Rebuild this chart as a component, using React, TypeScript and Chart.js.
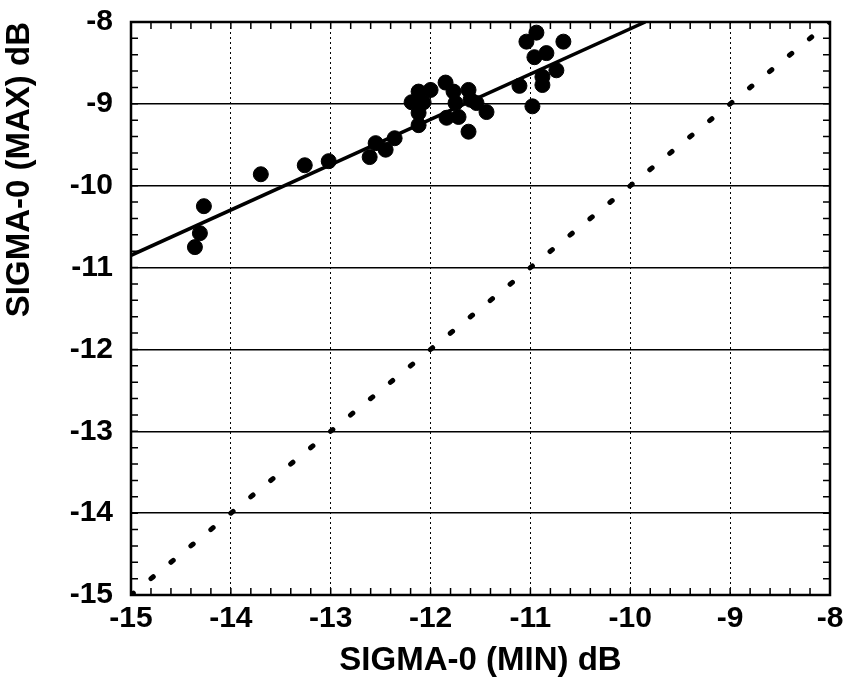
import React, { useEffect, useRef } from "react";
import { Chart, registerables } from "chart.js";

Chart.register(...registerables);

// SIGMA-0 (MIN) dB values of the measured points
const minDb: number[] = [
  -14.36, -14.31, -14.27, -13.70, -13.26, -13.02, -12.61, -12.55, -12.45, -12.36,
  -12.19, -12.12, -12.12, -12.12, -12.07, -12.00, -11.85, -11.84, -11.77, -11.75,
  -11.72, -11.62, -11.62, -11.60, -11.54, -11.44,
  -11.11, -11.04, -10.98, -10.96, -10.94, -10.88, -10.88, -10.84, -10.74, -10.67,
];
// SIGMA-0 (MAX) dB values of the measured points
const maxDb: number[] = [
  -10.75, -10.58, -10.25, -9.86, -9.75, -9.70, -9.65, -9.48, -9.56, -9.42,
  -8.98, -8.85, -9.11, -9.26, -8.98, -8.83, -8.74, -9.17, -8.85, -8.99,
  -9.16, -8.83, -9.34, -8.95, -8.99, -9.10,
  -8.78, -8.24, -9.03, -8.43, -8.13, -8.67, -8.77, -8.38, -8.59, -8.24,
];
// fitted regression line end points
const fitX: number[] = [-15, -9.85];
const fitY: number[] = [-10.85, -8];
// 1:1 reference line end points
const equalX: number[] = [-15, -8];
const equalY: number[] = [-15, -8];

const xMin = -15, xMax = -8, yMin = -15, yMax = -8;
const minorStep = 0.2;

const FONT = "'Liberation Sans', Arial, sans-serif";

const framePlugin = {
  id: "framePlugin",
  afterDraw(chart: any) {
    const { ctx, chartArea, scales } = chart;
    const { left, right, top, bottom } = chartArea;
    ctx.save();
    ctx.strokeStyle = "#000";
    ctx.lineWidth = 1.5;
    const len = 7;
    const n = Math.round((xMax - xMin) / minorStep);
    for (let i = 1; i < n; i++) {
      const v = xMin + i * minorStep;
      const px = scales.x.getPixelForValue(v);
      ctx.beginPath();
      ctx.moveTo(px, bottom);
      ctx.lineTo(px, bottom - len);
      ctx.moveTo(px, top);
      ctx.lineTo(px, top + len);
      ctx.stroke();
    }
    const m = Math.round((yMax - yMin) / minorStep);
    for (let i = 1; i < m; i++) {
      const v = yMin + i * minorStep;
      const py = scales.y.getPixelForValue(v);
      ctx.beginPath();
      ctx.moveTo(left, py);
      ctx.lineTo(left + len, py);
      ctx.moveTo(right, py);
      ctx.lineTo(right - len, py);
      ctx.stroke();
    }
    ctx.lineWidth = 2.5;
    ctx.strokeRect(left, top, right - left, bottom - top);
    ctx.restore();
  },
};

export default function App() {
  const ref = useRef<HTMLCanvasElement>(null);
  useEffect(() => {
    if (!ref.current) return;
    const chart = new Chart(ref.current, {
      type: "scatter",
      data: {
        datasets: [
          {
            type: "line",
            data: equalX.map((x, i) => ({ x, y: equalY[i] })),
            borderColor: "#000",
            borderWidth: 5,
            borderDash: [3, 22.8],
            borderCapStyle: "round",
            pointRadius: 0,
            fill: false,
          } as any,
          {
            type: "line",
            data: fitX.map((x, i) => ({ x, y: fitY[i] })),
            borderColor: "#000",
            borderWidth: 3.5,
            pointRadius: 0,
            fill: false,
          } as any,
          {
            data: minDb.map((x, i) => ({ x, y: maxDb[i] })),
            backgroundColor: "#000",
            borderColor: "#000",
            pointRadius: 7.5,
            pointHoverRadius: 7.5,
          },
        ],
      },
      options: {
        animation: false,
        responsive: false,
        maintainAspectRatio: false,
        layout: { padding: { top: 22, right: 14, left: 0, bottom: 0 } },
        plugins: { legend: { display: false }, tooltip: { enabled: false } },
        scales: {
          x: {
            type: "linear",
            min: xMin,
            max: xMax,
            ticks: {
              stepSize: 1,
              color: "#000",
              font: { family: FONT, size: 30, weight: "bold" },
              padding: 6,
              callback: (v: any) => String(v),
            },
            grid: { color: "#000", lineWidth: 1, drawTicks: false },
            border: { display: false, dash: [2, 3] },
            title: {
              display: true,
              text: "SIGMA-0 (MIN) dB",
              color: "#000",
              font: { family: FONT, size: 33, weight: "bold" },
              padding: { top: 4, bottom: 0 },
            },
            afterFit: (s: any) => {
              s.height = 86;
              s.paddingLeft = 0;
              s.paddingRight = 0;
            },
          },
          y: {
            type: "linear",
            min: yMin,
            max: yMax,
            ticks: {
              stepSize: 1,
              color: "#000",
              font: { family: FONT, size: 30, weight: "bold" },
              padding: 18,
              callback: (v: any) => String(v),
            },
            grid: { color: "#000", lineWidth: 1.5, drawTicks: false },
            border: { display: false },
            title: {
              display: true,
              text: "SIGMA-0 (MAX) dB",
              align: "end",
              color: "#000",
              font: { family: FONT, size: 33, weight: "bold" },
              padding: { top: 0, bottom: 6 },
            },
            afterFit: (s: any) => {
              s.width = 131;
              s.paddingTop = 0;
              s.paddingBottom = 0;
            },
          },
        },
      },
      plugins: [framePlugin],
    });
    return () => chart.destroy();
  }, []);
  return (
    <div style={{ position: "fixed", left: 0, top: 0, width: 844, height: 681, background: "#fff" }}>
      <canvas ref={ref} width={844} height={681} />
    </div>
  );
}
